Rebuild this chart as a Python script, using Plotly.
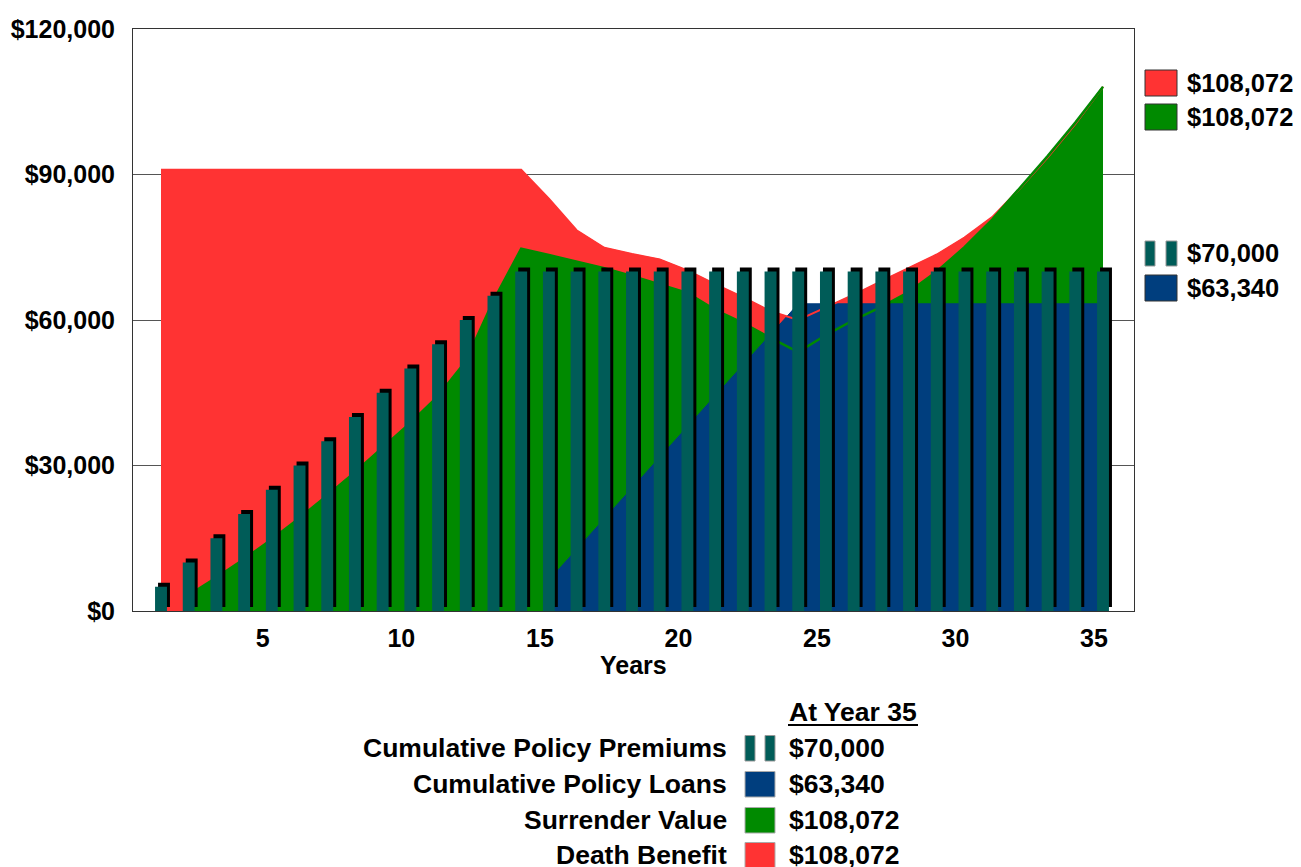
import plotly.graph_objects as go

# ---------------- data ----------------
years = list(range(1, 36))
premiums = [5000, 10000, 15000, 20000, 25000, 30000, 35000, 40000, 45000, 50000,
            55000, 60000, 65000, 70000, 70000, 70000, 70000, 70000, 70000, 70000,
            70000, 70000, 70000, 70000, 70000, 70000, 70000, 70000, 70000, 70000,
            70000, 70000, 70000, 70000, 70000]
loans = [None, None, None, None, None, None, None, None, None, None,
         None, None, None, None, 6334, 12668, 19002, 25336, 31670, 38004,
         44338, 50672, 57006, 63340, 63340, 63340, 63340, 63340, 63340, 63340,
         63340, 63340, 63340, 63340, 63340]
surrender = [None, 3300, 6900, 10700, 14800, 19200, 23800, 28600, 33600, 38800,
             44300, 51500, 64000, 74700, 73400, 72000, 70700, 69100, 67400, 65600,
             62100, 59400, 56300, 53400, 56900, 60000, 62700, 65800, 70000, 75000,
             80700, 87300, 93800, 100700, 108072]
death = [91000, 91000, 91000, 91000, 91000, 91000, 91000, 91000, 91000, 91000,
         91000, 91000, 91000, 91000, 85000, 78500, 74900, 73600, 72500, 70200,
         67400, 64700, 61800, 60000, 62600, 65200, 68000, 70700, 73500, 77000,
         81200, 87100, 93500, 100400, 108072]
y_ticks = [0, 30000, 60000, 90000, 120000]
x_ticks = [5, 10, 15, 20, 25, 30, 35]
legend_labels = ["Cumulative Policy Premiums", "Cumulative Policy Loans",
                 "Surrender Value", "Death Benefit"]
final_year = 35

# ---------------- style ----------------
RED = "#FF3333"
GREEN = "#008A00"
BLUE = "#003E7E"
TEAL = "#005C58"
FONT = "Liberation Sans, Arial, sans-serif"

OX, OY = 8, 8                      # page body margin
W, H = 1301 - OX, 867 - OY
L, R, T, B = 133, 1134, 29, 611    # plot area in page pixels


def px(x):
    return (x - L) / (R - L)


def py(y):
    return (B - y) / (B - T)


fig = go.Figure()

# areas (bottom subplot)
fig.add_trace(go.Scatter(x=years, y=death, mode="lines", fill="tozeroy",
                         fillcolor=RED, line=dict(color=RED, width=1),
                         xaxis="x", yaxis="y", hoverinfo="skip"))
fig.add_trace(go.Scatter(x=years, y=surrender, mode="lines", fill="tozeroy",
                         fillcolor=GREEN, line=dict(color=GREEN, width=1),
                         xaxis="x", yaxis="y", hoverinfo="skip"))
fig.add_trace(go.Scatter(x=years, y=loans, mode="lines", fill="tozeroy",
                         fillcolor=BLUE, line=dict(color=BLUE, width=1),
                         xaxis="x", yaxis="y", hoverinfo="skip"))
# outlines drawn above the loan area
fig.add_trace(go.Scatter(x=years, y=death, mode="lines",
                         line=dict(color=RED, width=2),
                         xaxis="x", yaxis="y", hoverinfo="skip"))
fig.add_trace(go.Scatter(x=years, y=surrender, mode="lines",
                         line=dict(color=GREEN, width=2.5),
                         xaxis="x", yaxis="y", hoverinfo="skip"))

BAR_W = 0.43
# shadow bars (shifted axes)
fig.add_trace(go.Bar(x=years, y=premiums, width=BAR_W,
                     marker=dict(color="#000000", line=dict(width=0)),
                     xaxis="x2", yaxis="y2", hoverinfo="skip"))
# premium bars
fig.add_trace(go.Bar(x=years, y=premiums, width=BAR_W,
                     marker=dict(color=TEAL, line=dict(width=0)),
                     xaxis="x3", yaxis="y3", hoverinfo="skip"))

px_per_year = 27.706
x_range = [1 - (161 - L) / px_per_year, 35 + (R - 1103) / px_per_year]
sx = 3 / px_per_year
sy = 4 / (B - T) * 120000

tickfont = dict(family=FONT, size=25, color="black", weight="bold")

fig.update_layout(
    width=W, height=H,
    margin=dict(l=L - OX, r=W - (R - OX), t=T - OY, b=H - (B - OY), pad=0, autoexpand=False),
    paper_bgcolor="white", plot_bgcolor="white",
    showlegend=False, barmode="overlay",
    font=dict(family=FONT, color="black"),
    xaxis=dict(range=x_range, tickmode="array", tickvals=x_ticks, automargin=False,
               ticks="", ticklabelshift=-9, ticklabelstandoff=5,
               tickfont=tickfont, showgrid=False, zeroline=False,
               showline=True, linecolor="#333333", linewidth=1, mirror=True),
    yaxis=dict(range=[0, 120000], tickmode="array", tickvals=y_ticks, automargin=False,
               tickformat="$,", ticks="", ticklabelstandoff=12,
               tickfont=tickfont, showgrid=True, gridcolor="#555555", gridwidth=1,
               zeroline=False, showline=True, linecolor="#333333", linewidth=1,
               mirror=True),
    xaxis2=dict(range=[x_range[0] - sx, x_range[1] - sx], overlaying="x",
                visible=False, automargin=False),
    yaxis2=dict(range=[-sy, 120000 - sy], overlaying="y", visible=False, automargin=False),
    xaxis3=dict(range=x_range, overlaying="x", visible=False, automargin=False),
    yaxis3=dict(range=[0, 120000], overlaying="y", visible=False, automargin=False),
)

# axis title
fig.add_annotation(text="<b>Years</b>", xref="paper", yref="paper",
                   x=px(633), y=py(665), xanchor="center", yanchor="middle",
                   showarrow=False, font=dict(family=FONT, size=25, color="black"))

LEG = 26.5
# right-side legend
final_idx = years.index(final_year)
right_items = [
    ("box", RED, death[final_idx], 70, 96),
    ("box", GREEN, surrender[final_idx], 104, 130),
    ("pair", TEAL, premiums[final_idx], 241, 266),
    ("box", BLUE, loans[final_idx], 275, 301),
]
for kind, col, val, y0, y1 in right_items:
    if kind == "box":
        fig.add_shape(type="rect", xref="paper", yref="paper",
                      x0=px(1145), x1=px(1177), y0=py(y1), y1=py(y0),
                      fillcolor=col, line=dict(color="#333333", width=1))
    else:
        for a, b in ((1145, 1155), (1166, 1177)):
            fig.add_shape(type="rect", xref="paper", yref="paper",
                          x0=px(a), x1=px(b), y0=py(y1), y1=py(y0),
                          fillcolor=col, line=dict(color="#999999", width=1))
    fig.add_annotation(text=f"<b>${val:,.0f}</b>", xref="paper", yref="paper",
                       x=px(1185), y=py((y0 + y1) / 2), xanchor="left", yanchor="middle",
                       showarrow=False, font=dict(family=FONT, size=25.5, color="black"))

# bottom legend
fig.add_annotation(text=f"<b>At Year {final_year}</b>", xref="paper", yref="paper",
                   x=px(787), y=py(712), xanchor="left", yanchor="middle",
                   showarrow=False, font=dict(family=FONT, size=LEG, color="black"))
fig.add_shape(type="line", xref="paper", yref="paper",
              x0=px(788), x1=px(918), y0=py(725), y1=py(725),
              line=dict(color="black", width=2))

bottom_vals = [premiums[final_idx], loans[final_idx], surrender[final_idx], death[final_idx]]
bottom_cols = [TEAL, BLUE, GREEN, RED]
row_y = [748, 784, 820, 855]
for lab, val, col, yc in zip(legend_labels, bottom_vals, bottom_cols, row_y):
    fig.add_annotation(text=f"<b>{lab}</b>", xref="paper", yref="paper",
                       x=px(729), y=py(yc), xanchor="right", yanchor="middle",
                       showarrow=False, font=dict(family=FONT, size=LEG, color="black"))
    fig.add_annotation(text=f"<b>${val:,.0f}</b>", xref="paper", yref="paper",
                       x=px(787), y=py(yc), xanchor="left", yanchor="middle",
                       showarrow=False, font=dict(family=FONT, size=LEG, color="black"))
    y0, y1 = yc - 12.5, yc + 13
    if col == TEAL:
        for a, b in ((745, 755), (765, 775)):
            fig.add_shape(type="rect", xref="paper", yref="paper",
                          x0=px(a), x1=px(b), y0=py(y1), y1=py(y0),
                          fillcolor=col, line=dict(color="#999999", width=1))
    else:
        fig.add_shape(type="rect", xref="paper", yref="paper",
                      x0=px(745), x1=px(775), y0=py(y1), y1=py(y0),
                      fillcolor=col, line=dict(color="#aaaaaa", width=1))

fig.write_html("out.html")
